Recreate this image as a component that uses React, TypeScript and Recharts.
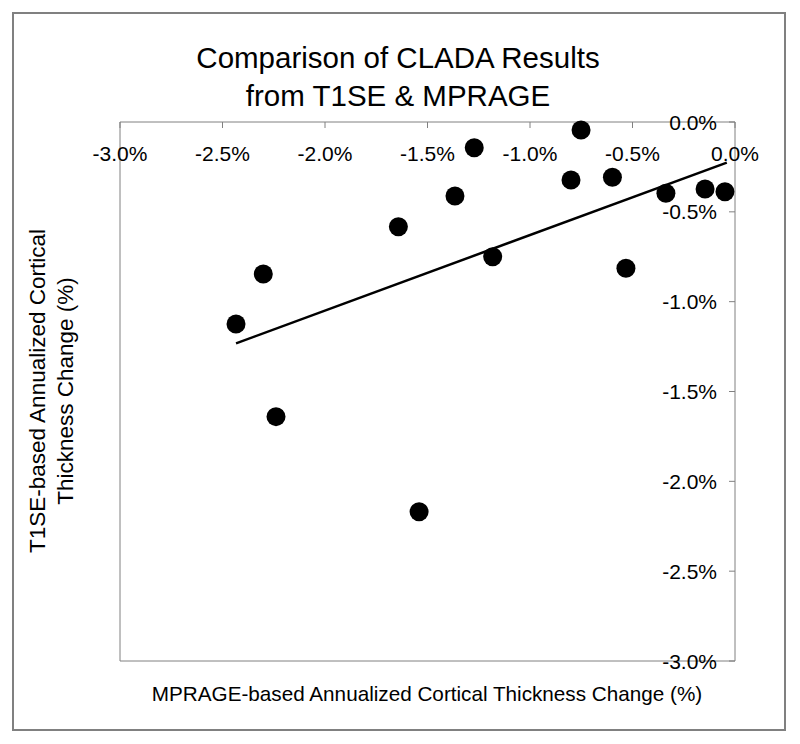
import React from 'react';
import { ScatterChart, Scatter, XAxis, YAxis, ReferenceArea, ReferenceLine } from 'recharts';

// MPRAGE-based change (%) for each subject
const mprageChange = [-2.434, -2.301, -2.239, -1.642, -1.541, -1.366, -1.272, -1.182, -0.8, -0.751, -0.598, -0.532, -0.337, -0.146, -0.049];
// T1SE-based change (%) for each subject
const t1seChange = [-1.124, -0.846, -1.64, -0.583, -2.169, -0.412, -0.143, -0.75, -0.323, -0.045, -0.308, -0.814, -0.397, -0.373, -0.388];
// Linear trend line end points
const trendX = [-2.434, -0.04];
const trendY = [-1.232, -0.226];
// Tick values
const xTicks = [-3, -2.5, -2, -1.5, -1, -0.5, 0];
const yTicks = [-3, -2.5, -2, -1.5, -1, -0.5, 0];

const titleLines = ['Comparison of CLADA Results', 'from T1SE & MPRAGE'];
const xLabel = 'MPRAGE-based Annualized Cortical Thickness Change (%)';
const yLabelLines = ['T1SE-based Annualized Cortical', 'Thickness Change (%)'];

const points = mprageChange.map((x, i) => ({ x, y: t1seChange[i] }));

const W = 800;
const H = 744;
const PLOT_LEFT = 120;
const PLOT_TOP = 122;
const PLOT_RIGHT = 735;
const PLOT_BOTTOM = 661;
const X_AXIS_H = 30;
const Y_AXIS_W = 30;
const FONT = '"Liberation Sans", Arial, sans-serif';

const fmt = (v: number) => `${v.toFixed(1)}%`;

const XTick = (props: any) => {
  const { x, payload } = props;
  return (
    <g>
      <line x1={x} y1={PLOT_TOP} x2={x} y2={PLOT_TOP + 6} stroke="#808080" strokeWidth={1} />
      <text x={x} y={PLOT_TOP + 31} textAnchor="middle" dominantBaseline="central" fontSize={21} fontFamily={FONT} fill="#000">
        {fmt(payload.value)}
      </text>
    </g>
  );
};

const YTick = (props: any) => {
  const { y, payload } = props;
  return (
    <g>
      <line x1={PLOT_RIGHT - 6} y1={y} x2={PLOT_RIGHT} y2={y} stroke="#808080" strokeWidth={1} />
      <text x={PLOT_RIGHT - 18} y={y} textAnchor="end" dominantBaseline="central" fontSize={21} fontFamily={FONT} fill="#000">
        {fmt(payload.value)}
      </text>
    </g>
  );
};

const Dot = (props: any) => {
  const { cx, cy } = props;
  return <circle cx={cx} cy={cy} r={9.5} fill="#000" />;
};

export default function App() {
  return (
    <div style={{ position: 'absolute', left: 0, top: 0, width: W, height: H, background: '#fff' }}>
      <ScatterChart
        width={W}
        height={H}
        margin={{ top: PLOT_TOP - X_AXIS_H, right: W - PLOT_RIGHT - Y_AXIS_W, bottom: H - PLOT_BOTTOM, left: PLOT_LEFT }}
      >
        <XAxis
          type="number"
          dataKey="x"
          orientation="top"
          height={X_AXIS_H}
          domain={[-3, 0]}
          ticks={xTicks}
          axisLine={false}
          tickLine={false}
          tick={<XTick />}
          interval={0}
        />
        <YAxis
          type="number"
          dataKey="y"
          orientation="right"
          width={Y_AXIS_W}
          domain={[-3, 0]}
          ticks={yTicks}
          axisLine={false}
          tickLine={false}
          tick={<YTick />}
          interval={0}
        />
        <ReferenceArea x1={-3} x2={0} y1={-3} y2={0} fill="none" fillOpacity={0} stroke="#808080" strokeWidth={1} ifOverflow="visible" />
        <ReferenceLine
          segment={[
            { x: trendX[0], y: trendY[0] },
            { x: trendX[1], y: trendY[1] },
          ]}
          stroke="#000"
          strokeWidth={2.5}
          ifOverflow="visible"
        />
        <Scatter data={points} fill="#000" shape={<Dot />} isAnimationActive={false} />
      </ScatterChart>
      <svg width={W} height={H} style={{ position: 'absolute', left: 0, top: 0, pointerEvents: 'none' }}>
        <rect x={13} y={13} width={772} height={717} fill="none" stroke="#808080" strokeWidth={2} />
        {titleLines.map((t, i) => (
          <text key={i} x={398} y={57 + i * 38} textAnchor="middle" dominantBaseline="central" fontSize={29.5} fontFamily={FONT} fill="#000">
            {t}
          </text>
        ))}
        <text x={427} y={693} textAnchor="middle" dominantBaseline="central" fontSize={20.7} fontFamily={FONT} fill="#000">
          {xLabel}
        </text>
        {yLabelLines.map((t, i) => (
          <text key={i} transform={`translate(${45 + i * 28},391) rotate(-90)`} textAnchor="middle" fontSize={22.5} fontFamily={FONT} fill="#000">
            {t}
          </text>
        ))}
      </svg>
    </div>
  );
}
